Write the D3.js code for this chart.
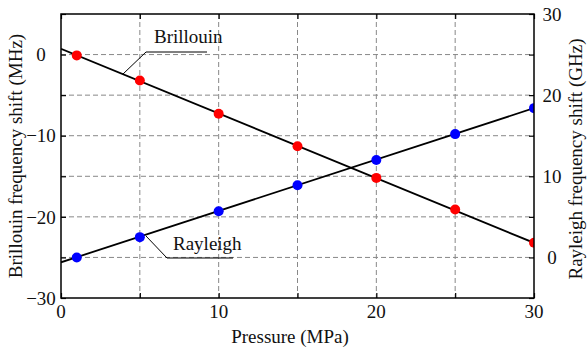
<!DOCTYPE html>
<html><head><meta charset="utf-8">
<script src="https://cdn.jsdelivr.net/npm/d3@7"></script>
<style>
body{margin:0;background:#fff;}
text{font-family:"Liberation Serif","Times New Roman",serif;fill:#111;}
</style></head>
<body><svg id="c" width="587" height="348"></svg>
<script>
const pressure = [1, 5, 10, 15, 20, 25, 30];
const brillouin = [-0.1, -3.2, -7.3, -11.3, -15.2, -19.1, -23.2];
const rayleigh = [0.0, 2.5, 5.7, 8.9, 12.0, 15.2, 18.4];
const brillouinFitX = [0, 30];
const brillouinFitY = [0.7, -23.2];
const rayleighFitX = [0, 30];
const rayleighFitY = [-0.6, 18.4];
const xTicks = [0, 10, 20, 30];
const xGrid = [5, 10, 15, 20, 25];
const leftTicks = [0, -10, -20, -30];
const leftGrid = [0, -5, -10, -15, -20, -25];
const rightTicks = [0, 10, 20, 30];

const L = 61, R = 534, T = 14, B = 298;
const svg = d3.select("#c");
const x = d3.scaleLinear().domain([0, 30]).range([L, R]);
const yL = d3.scaleLinear().domain([-30, 5]).range([B, T]);
const yR = d3.scaleLinear().domain([-5, 30]).range([B, T]);

svg.append("defs").append("clipPath").attr("id", "clip")
  .append("rect").attr("x", L).attr("y", T).attr("width", R - L).attr("height", B - T);

// grid
const g = svg.append("g").attr("stroke", "#888").attr("stroke-width", 1).attr("stroke-dasharray", "5,3");
g.selectAll(".vx").data(xGrid).join("line")
  .attr("x1", d => x(d)).attr("x2", d => x(d)).attr("y1", T).attr("y2", B);
g.selectAll(".hy").data(leftGrid).join("line")
  .attr("x1", L).attr("x2", R).attr("y1", d => yL(d)).attr("y2", d => yL(d));

// axes with inward ticks
const tickLen = 5;
svg.append("g").attr("transform", `translate(0,${B})`)
  .call(d3.axisTop(x).tickValues(d3.range(0, 31, 5)).tickSize(tickLen).tickFormat(""))
  .call(a => a.select(".domain").remove());
svg.append("g").attr("transform", `translate(0,${T})`)
  .call(d3.axisBottom(x).tickValues(d3.range(0, 31, 5)).tickSize(tickLen).tickFormat(""))
  .call(a => a.select(".domain").remove());
svg.append("g").attr("transform", `translate(${L},0)`)
  .call(d3.axisRight(yL).tickValues(d3.range(-30, 6, 5)).tickSize(tickLen).tickFormat(""))
  .call(a => a.select(".domain").remove());
svg.append("g").attr("transform", `translate(${R},0)`)
  .call(d3.axisLeft(yR).tickValues(d3.range(-5, 31, 5)).tickSize(tickLen).tickFormat(""))
  .call(a => a.select(".domain").remove());
svg.selectAll(".tick line").attr("stroke", "#000").attr("stroke-width", 1.2);

// tick labels
const fs = 19;
svg.selectAll(".xl").data(xTicks).join("text")
  .attr("x", d => x(d)).attr("y", 318).attr("text-anchor", "middle").attr("font-size", fs)
  .text(d => d);
svg.selectAll(".yl").data(leftTicks).join("text")
  .attr("x", 41).attr("y", d => yL(d)).attr("dy", "0.35em").attr("text-anchor", "middle").attr("font-size", fs)
  .text(d => d < 0 ? "\u2212" + Math.abs(d) : d);
svg.selectAll(".yr").data(rightTicks).join("text")
  .attr("x", 552).attr("y", d => yR(d)).attr("dy", "0.35em").attr("text-anchor", "middle").attr("font-size", fs)
  .text(d => d);

// axis titles
svg.append("text").attr("x", 290).attr("y", 343).attr("text-anchor", "middle").attr("font-size", fs)
  .text("Pressure (MPa)");
svg.append("text").attr("transform", `translate(22,${(T + B) / 2}) rotate(-90)`)
  .attr("text-anchor", "middle").attr("font-size", fs).text("Brillouin frequency shift (MHz)");
svg.append("text").attr("transform", `translate(582,${(T + B) / 2 + 3}) rotate(-90)`)
  .attr("text-anchor", "middle").attr("font-size", fs).text("Rayleigh frequency shift (GHz)");

// data
const plot = svg.append("g").attr("clip-path", "url(#clip)");
const line = d3.line();
plot.append("path")
  .attr("d", line(brillouinFitX.map((v, i) => [x(v), yL(brillouinFitY[i])])))
  .attr("stroke", "#000").attr("stroke-width", 1.8).attr("fill", "none");
plot.append("path")
  .attr("d", line(rayleighFitX.map((v, i) => [x(v), yR(rayleighFitY[i])])))
  .attr("stroke", "#000").attr("stroke-width", 1.8).attr("fill", "none");
plot.selectAll(".bp").data(pressure).join("circle")
  .attr("cx", d => x(d)).attr("cy", (d, i) => yL(brillouin[i])).attr("r", 5).attr("fill", "#ff0000");
plot.selectAll(".rp").data(pressure).join("circle")
  .attr("cx", d => x(d)).attr("cy", (d, i) => yR(rayleigh[i])).attr("r", 5).attr("fill", "#0000ff");

// frame
svg.append("rect").attr("x", L).attr("y", T).attr("width", R - L).attr("height", B - T)
  .attr("fill", "none").attr("stroke", "#000").attr("stroke-width", 1.5);

// annotations
svg.append("polyline").attr("points", "123,74 146,52 207,52")
  .attr("fill", "none").attr("stroke", "#000").attr("stroke-width", 1);
svg.append("text").attr("x", 154).attr("y", 43).attr("font-size", fs).text("Brillouin");
svg.append("polyline").attr("points", "146,236 167,258 233,258")
  .attr("fill", "none").attr("stroke", "#000").attr("stroke-width", 1);
svg.append("text").attr("x", 173).attr("y", 250).attr("font-size", fs).text("Rayleigh");
</script></body></html>
